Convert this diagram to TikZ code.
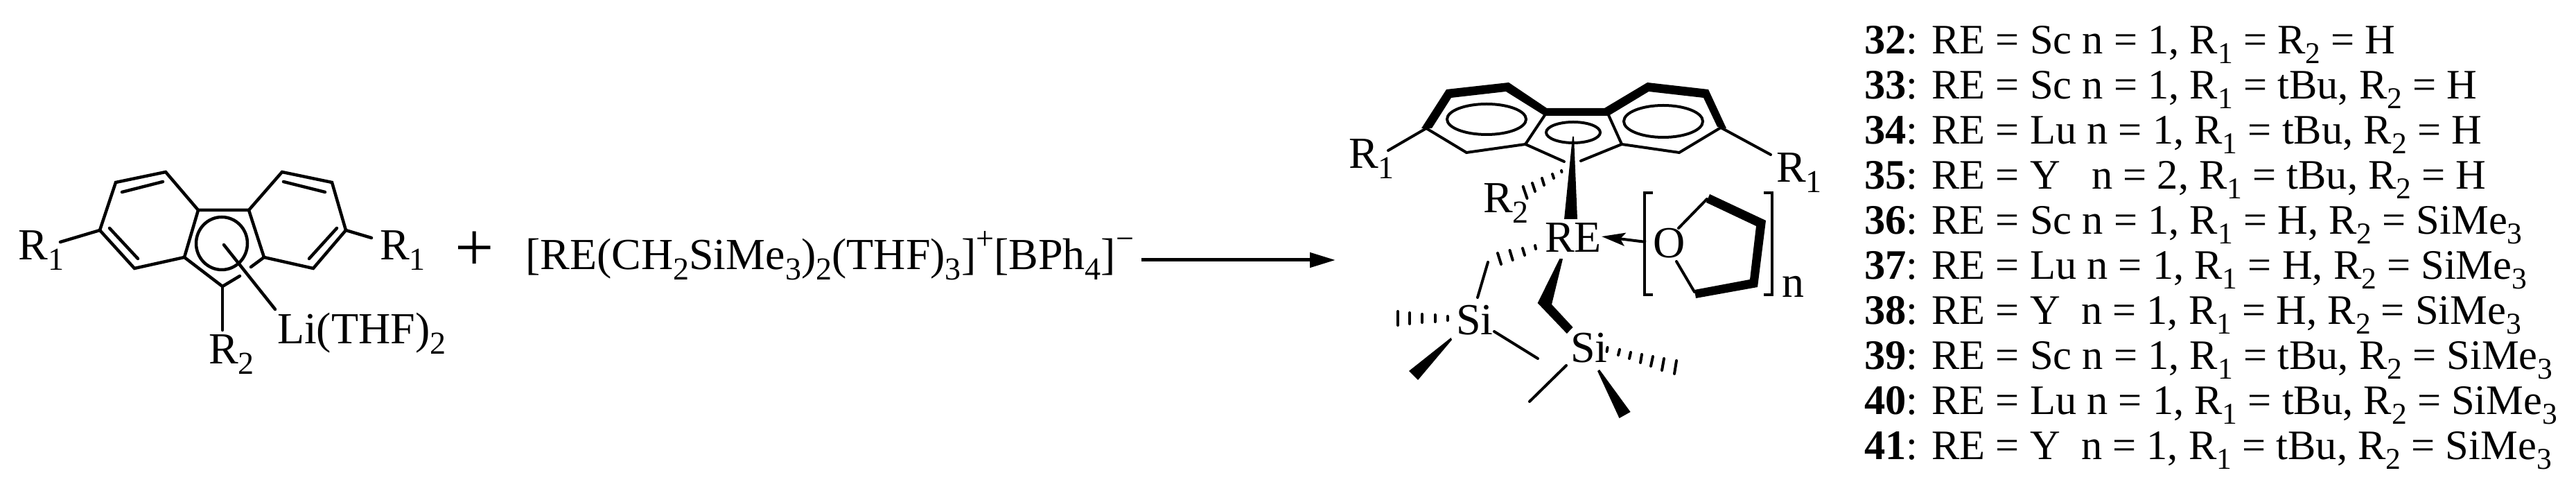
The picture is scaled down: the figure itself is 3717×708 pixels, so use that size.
\documentclass[tikz,border=0pt]{standalone}
\usepackage{graphicx}
\usepackage{fontspec}
\setmainfont{Liberation Serif}
\usetikzlibrary{arrows.meta}
\newcommand\sbs[1]{\raisebox{-0.23em}{\scalebox{0.72}{#1}}}
\newcommand\sps[1]{\raisebox{0.46em}{\scalebox{0.72}{#1}}}
\newcommand\RA{R\sbs{1}}
\newcommand\RB{R\sbs{2}}
\newcommand\SMe{SiMe\sbs{3}}
\tikzset{
  x=1pt,y=1pt,
  chem/.style={inner sep=0pt,outer sep=0pt,anchor=base west,font=\fontsize{64}{70}\selectfont},
  lst/.style={inner sep=0pt,outer sep=0pt,anchor=base west,font=\fontsize{60.5}{66}\selectfont},
  bond/.style={line width=4.5pt,line cap=round,line join=miter},
  thinb/.style={line width=4pt,line cap=round,line join=miter},
  hash/.style={line width=4pt,line cap=round},
  solid fill/.style={fill=black,draw=none}
}
\newcommand\py[1]{\the\numexpr708-#1\relax}
\begin{document}
\begin{tikzpicture}[x=1pt,y=1pt]
\path[use as bounding box,fill=white] (0,0) rectangle (3717,708);
\begin{scope}[yscale=-1,yshift=-708pt]
% ---- reactant
\coordinate (a) at (144,332); \coordinate (b) at (167,263); \coordinate (c) at (239,248);
\coordinate (d) at (286,303); \coordinate (e) at (359,303); \coordinate (f) at (407,248);
\coordinate (g) at (479,263); \coordinate (h) at (499,332); \coordinate (i) at (452,387);
\coordinate (j) at (381,371); \coordinate (k) at (321,413); \coordinate (l) at (266,371);
\coordinate (m) at (194,387);
\coordinate (kj1) at (346,398); \coordinate (kj2) at (362,385);
\coordinate (r1lend) at (87,349); \coordinate (r1rend) at (536,343); \coordinate (r2end) at (321,476);
\coordinate (listart) at (323,353); \coordinate (liend) at (397,446);
\draw[bond] (a)--(b)--(c)--(d)--(e)--(f)--(g)--(h)--(i)--(j)--(e);
\draw[bond] (d)--(l)--(m)--(a);
\draw[bond] (j)--(kj2);
\draw[bond] (kj1)--(k)--(l);
\draw[bond] (176,277)--(235,262);
\draw[bond] (158,329)--(199,373);
\draw[bond] (409,262)--(469,277);
\draw[bond] (486,329)--(446,373);
\draw[bond] (a)--(r1lend);
\draw[bond] (h)--(r1rend);
\draw[bond] (k)--(r2end);
\draw[bond] (listart)--(liend);
\draw[bond] (320,351) circle[x radius=37,y radius=38];
\begin{scope}[yscale=-1,yshift=-708pt]
\end{scope}
% ---- arrow
\coordinate (arrA) at (1647,375); \coordinate (arrB) at (1927,375);
\draw[line width=5pt,-{Triangle[length=37pt,width=21pt]}] (arrA)--(arrB);
% ---- product: Cp ring
\coordinate (pa) at (2058,185); \coordinate (pm) at (2116,220); \coordinate (pl) at (2201,208);
\coordinate (pd) at (2229,166); \coordinate (pe) at (2321,166); \coordinate (pj) at (2340,208);
\coordinate (pi) at (2423,220); \coordinate (ph) at (2483,184);
\coordinate (pk1) at (2257,233); \coordinate (pk2) at (2281,232);
\coordinate (pr1l) at (2003,217); \coordinate (pr1r) at (2555,223);
\fill (2051,185)--(2087,129)--(2177,119)--(2232,156)--(2315,156)--(2377,119)--(2465,129)--(2491,185)--(2478,183)--(2458,141)--(2379,132)--(2321,167)--(2229,167)--(2173,132)--(2094,141)--(2066,185)--cycle;
\draw[thinb] (pa)--(pm)--(pl)--(pd);
\draw[thinb] (pl)--(pk1);
\draw[thinb] (pe)--(pj)--(pi)--(ph);
\draw[thinb] (pj)--(pk2);
\draw[thinb] (pa)--(pr1l);
\draw[thinb] (ph)--(pr1r);
\draw[thinb] (2145,172) circle[x radius=57,y radius=22];
\draw[thinb] (2400,175) circle[x radius=57,y radius=23];
\draw[thinb] (2270,191) circle[x radius=39,y radius=15];
% central wedge
\fill (2269,197)--(2271,197)--(2276,316)--(2257,316)--cycle;
% hash to R2
\draw[hash] (2253,246)--(2253.5,248);
\draw[hash] (2240,251)--(2242,257);
\draw[hash] (2225,257)--(2228,267);
\draw[hash] (2211,264)--(2215,276);
\draw[hash] (2197.7,269)--(2203.5,286);
% bracket and THF
\draw[line width=4.5pt] (2385,278)--(2373,278)--(2373,425)--(2385,425);
\draw[line width=4.5pt] (2545,278)--(2557,278)--(2557,425)--(2545,425);
\coordinate (o1) at (2422,329); \coordinate (o2) at (2463,287);
\coordinate (o3) at (2419,377); \coordinate (o4) at (2445,421);
\draw[thinb] (o1)--(o2);
\draw[thinb] (o3)--(o4);
\fill (2467,280)--(2548,318)--(2536,414)--(2447,430)--(2445,418)--(2525,403)--(2534,326)--(2462,292)--cycle;
% coordination arrow
\coordinate (carrA) at (2375,349); \coordinate (carrB) at (2311,341);
\draw[line width=4pt,-{Stealth[length=34pt,width=19pt,inset=7pt]}] (carrA)--(carrB);
% RE thick wedge
\fill (2250.4,373)--(2255,373.3)--(2239,439)--(2269.6,472)--(2260.8,481)--(2218.7,437)--cycle;
% hash RE-CH2
\draw[hash] (2215,354)--(2216,359);
\draw[hash] (2197,358)--(2200,368);
\draw[hash] (2178.5,361)--(2182.7,375);
\draw[hash] (2161,365)--(2166,381);
\coordinate (s1) at (2147,378); \coordinate (s2) at (2132,429);
\draw[thinb] (s1)--(s2);
% Si left
\draw[hash] (2017,449)--(2017,469);
\draw[hash] (2034,451)--(2034,467);
\draw[hash] (2052,453)--(2052,465);
\draw[hash] (2070.5,454)--(2070.5,464);
\draw[hash] (2088.5,456)--(2088.5,462);
\fill (2093.5,487)--(2095,490)--(2046,548)--(2033,535)--cycle;
\coordinate (s3) at (2156,478); \coordinate (s4) at (2219,517);
\draw[thinb] (s3)--(s4);
% Si right
\coordinate (s5) at (2260,527); \coordinate (s6) at (2207,579);
\draw[thinb] (s5)--(s6);
\fill (2305,535)--(2308,533)--(2352.6,594)--(2336.5,603)--cycle;
\draw[hash] (2319.5,501)--(2318.5,507);
\draw[hash] (2337,504)--(2335,512);
\draw[hash] (2353,508)--(2351,517);
\draw[hash] (2369,511)--(2367,523);
\draw[hash] (2385,514)--(2382,528);
\draw[hash] (2401,517)--(2398,534);
\draw[hash] (2419,520)--(2416,539);
% ---- text (y downward inside this scope, text itself upright)
\node[chem] (tR1a) at (27,375) {\RA};
\node[chem] (tR1b) at (548,375) {\RA};
\node[chem] (tR2a) at (301,525) {\RB};
\node[chem] (tLi) at (400,496) {Li(THF)\sbs{2}};
\node[inner sep=0pt,anchor=base,font=\fontsize{100}{100}\selectfont] (tplus) at (685,391) {+};
\node[chem] (tform) at (758,389) {[RE(CH\sbs{2}SiMe\sbs{3})\sbs{2}(THF)\sbs{3}]\sps{+}[BPh\sbs{4}]\sps{−}};
\node[chem] (pR1a) at (1946,243) {\RA};
\node[chem] (pR1b) at (2563,263) {\RA};
\node[chem] (pR2) at (2140,307) {\RB};
\node[chem] (pRE) at (2229,364) {RE};
\node[chem] (pO) at (2385,372) {O};
\node[chem] (pn) at (2571,429) {n};
\node[chem] (pSi1) at (2101,483) {Si};
\node[chem] (pSi2) at (2266,523) {Si};
% list
\node[lst] (l32) at (2690,78) {\textbf{32}: RE = Sc n = 1, \RA{} = \RB{} = H};
\node[lst] (l33) at (2690,143) {\textbf{33}: RE = Sc n = 1, \RA{} = tBu, \RB{} = H};
\node[lst] (l34) at (2690,208) {\textbf{34}: RE = Lu n = 1, \RA{} = tBu, \RB{} = H};
\node[lst] (l35) at (2690,273) {\textbf{35}: RE = Y\hspace{0.75em}n = 2, \RA{} = tBu, \RB{} = H};
\node[lst] (l36) at (2690,338) {\textbf{36}: RE = Sc n = 1, \RA{} = H, \RB{} = \SMe};
\node[lst] (l37) at (2690,403) {\textbf{37}: RE = Lu n = 1, \RA{} = H, \RB{} = \SMe};
\node[lst] (l38) at (2690,468) {\textbf{38}: RE = Y\hspace{0.5em}n = 1, \RA{} = H, \RB{} = \SMe};
\node[lst] (l39) at (2690,533) {\textbf{39}: RE = Sc n = 1, \RA{} = tBu, \RB{} = \SMe};
\node[lst] (l40) at (2690,598) {\textbf{40}: RE = Lu n = 1, \RA{} = tBu, \RB{} = \SMe};
\node[lst] (l41) at (2690,663) {\textbf{41}: RE = Y\hspace{0.5em}n = 1, \RA{} = tBu, \RB{} = \SMe};
\end{scope}
\end{tikzpicture}
\end{document}
